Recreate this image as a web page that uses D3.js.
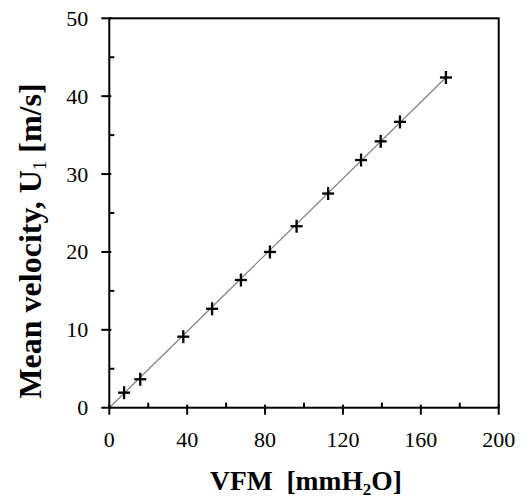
<!DOCTYPE html>
<html>
<head>
<meta charset="utf-8">
<script src="https://cdn.jsdelivr.net/npm/d3@7"></script>
<style>
  html, body { margin: 0; padding: 0; background: #fff; }
  svg { display: block; }
  text { font-family: "Liberation Serif", "Times New Roman", serif; fill: #000; }
</style>
</head>
<body>
<svg id="chart" width="530" height="502"></svg>
<script>
// Flow meter calibration: VFM reading vs mean velocity
const vfm      = [7.6, 15.9, 38.0, 52.8, 67.6, 82.5, 96.2, 112.4, 129.3, 139.4, 149.3, 172.9];
const velocity = [1.93, 3.65, 9.12, 12.7, 16.4, 20.0, 23.3, 27.5, 31.8, 34.2, 36.7, 42.4];
// Linear fit through the origin
const fitX = [0, 172.9];
const fitY = [0, 42.4];

const xMajor = [0, 40, 80, 120, 160, 200];
const xMinor = [20, 60, 100, 140, 180];
const yMajor = [0, 10, 20, 30, 40, 50];
const yMinor = [5, 15, 25, 35, 45];

const svg = d3.select("#chart");
const plotL = 109.3, plotR = 498.7, plotT = 18.3, plotB = 407.7;

const x = d3.scaleLinear().domain([0, 200]).range([plotL, plotR]);
const y = d3.scaleLinear().domain([0, 50]).range([plotB, plotT]);

// fit line
svg.append("line")
  .attr("x1", x(fitX[0])).attr("y1", y(fitY[0]))
  .attr("x2", x(fitX[1])).attr("y2", y(fitY[1]))
  .attr("stroke", "#808080").attr("stroke-width", 1.2);

// frame
svg.append("rect")
  .attr("x", plotL).attr("y", plotT)
  .attr("width", plotR - plotL).attr("height", plotB - plotT)
  .attr("fill", "none").attr("stroke", "#000").attr("stroke-width", 2);

// x axis: major ticks cross the axis, minor ticks point inward
const xAxis = svg.append("g");
xAxis.selectAll("line.maj").data(xMajor).join("line")
  .attr("class", "maj")
  .attr("x1", d => x(d)).attr("x2", d => x(d))
  .attr("y1", plotB - 3).attr("y2", plotB + 7)
  .attr("stroke", "#000").attr("stroke-width", 2);
xAxis.selectAll("line.min").data(xMinor).join("line")
  .attr("class", "min")
  .attr("x1", d => x(d)).attr("x2", d => x(d))
  .attr("y1", plotB - 5).attr("y2", plotB)
  .attr("stroke", "#000").attr("stroke-width", 2);
xAxis.selectAll("text").data(xMajor).join("text")
  .attr("x", d => x(d)).attr("y", plotB + 39.5)
  .attr("text-anchor", "middle").attr("font-size", 22)
  .text(d => d);

// y axis
const yAxis = svg.append("g");
yAxis.selectAll("line.maj").data(yMajor).join("line")
  .attr("class", "maj")
  .attr("x1", plotL - 8).attr("x2", plotL + 2)
  .attr("y1", d => y(d)).attr("y2", d => y(d))
  .attr("stroke", "#000").attr("stroke-width", 2);
yAxis.selectAll("line.min").data(yMinor).join("line")
  .attr("class", "min")
  .attr("x1", plotL).attr("x2", plotL + 5)
  .attr("y1", d => y(d)).attr("y2", d => y(d))
  .attr("stroke", "#000").attr("stroke-width", 2);
yAxis.selectAll("text").data(yMajor).join("text")
  .attr("x", plotL - 21).attr("y", d => y(d) + 7.5)
  .attr("text-anchor", "end").attr("font-size", 22)
  .text(d => d);

// data markers (+)
const half = 6;
const pts = svg.append("g").selectAll("g").data(vfm.map((v, i) => [v, velocity[i]])).join("g")
  .attr("transform", d => `translate(${x(d[0])},${y(d[1])})`);
pts.append("line").attr("x1", -half).attr("x2", half).attr("y1", 0).attr("y2", 0)
  .attr("stroke", "#000").attr("stroke-width", 2.3);
pts.append("line").attr("x1", 0).attr("x2", 0).attr("y1", -half - 0.5).attr("y2", half + 0.5)
  .attr("stroke", "#000").attr("stroke-width", 2.3);

// axis titles
const xt = svg.append("text")
  .attr("x", 306).attr("y", 490)
  .attr("text-anchor", "middle").attr("font-size", 27.5).attr("font-weight", "bold");
xt.append("tspan").text("VFM\u00A0\u00A0[mmH");
xt.append("tspan").attr("font-size", 17).attr("dy", 5).text("2");
xt.append("tspan").attr("dy", -5).text("O]");

const yt = svg.append("text")
  .attr("transform", "translate(41,241) rotate(-90)")
  .attr("text-anchor", "middle").attr("font-size", 32).attr("font-weight", "bold");
yt.append("tspan").text("Mean velocity, U");
yt.append("tspan").attr("font-size", 19).attr("font-weight", "normal").attr("dy", 5).text("1");
yt.append("tspan").attr("dy", -5).text(" [m/s]");
</script>
</body>
</html>
